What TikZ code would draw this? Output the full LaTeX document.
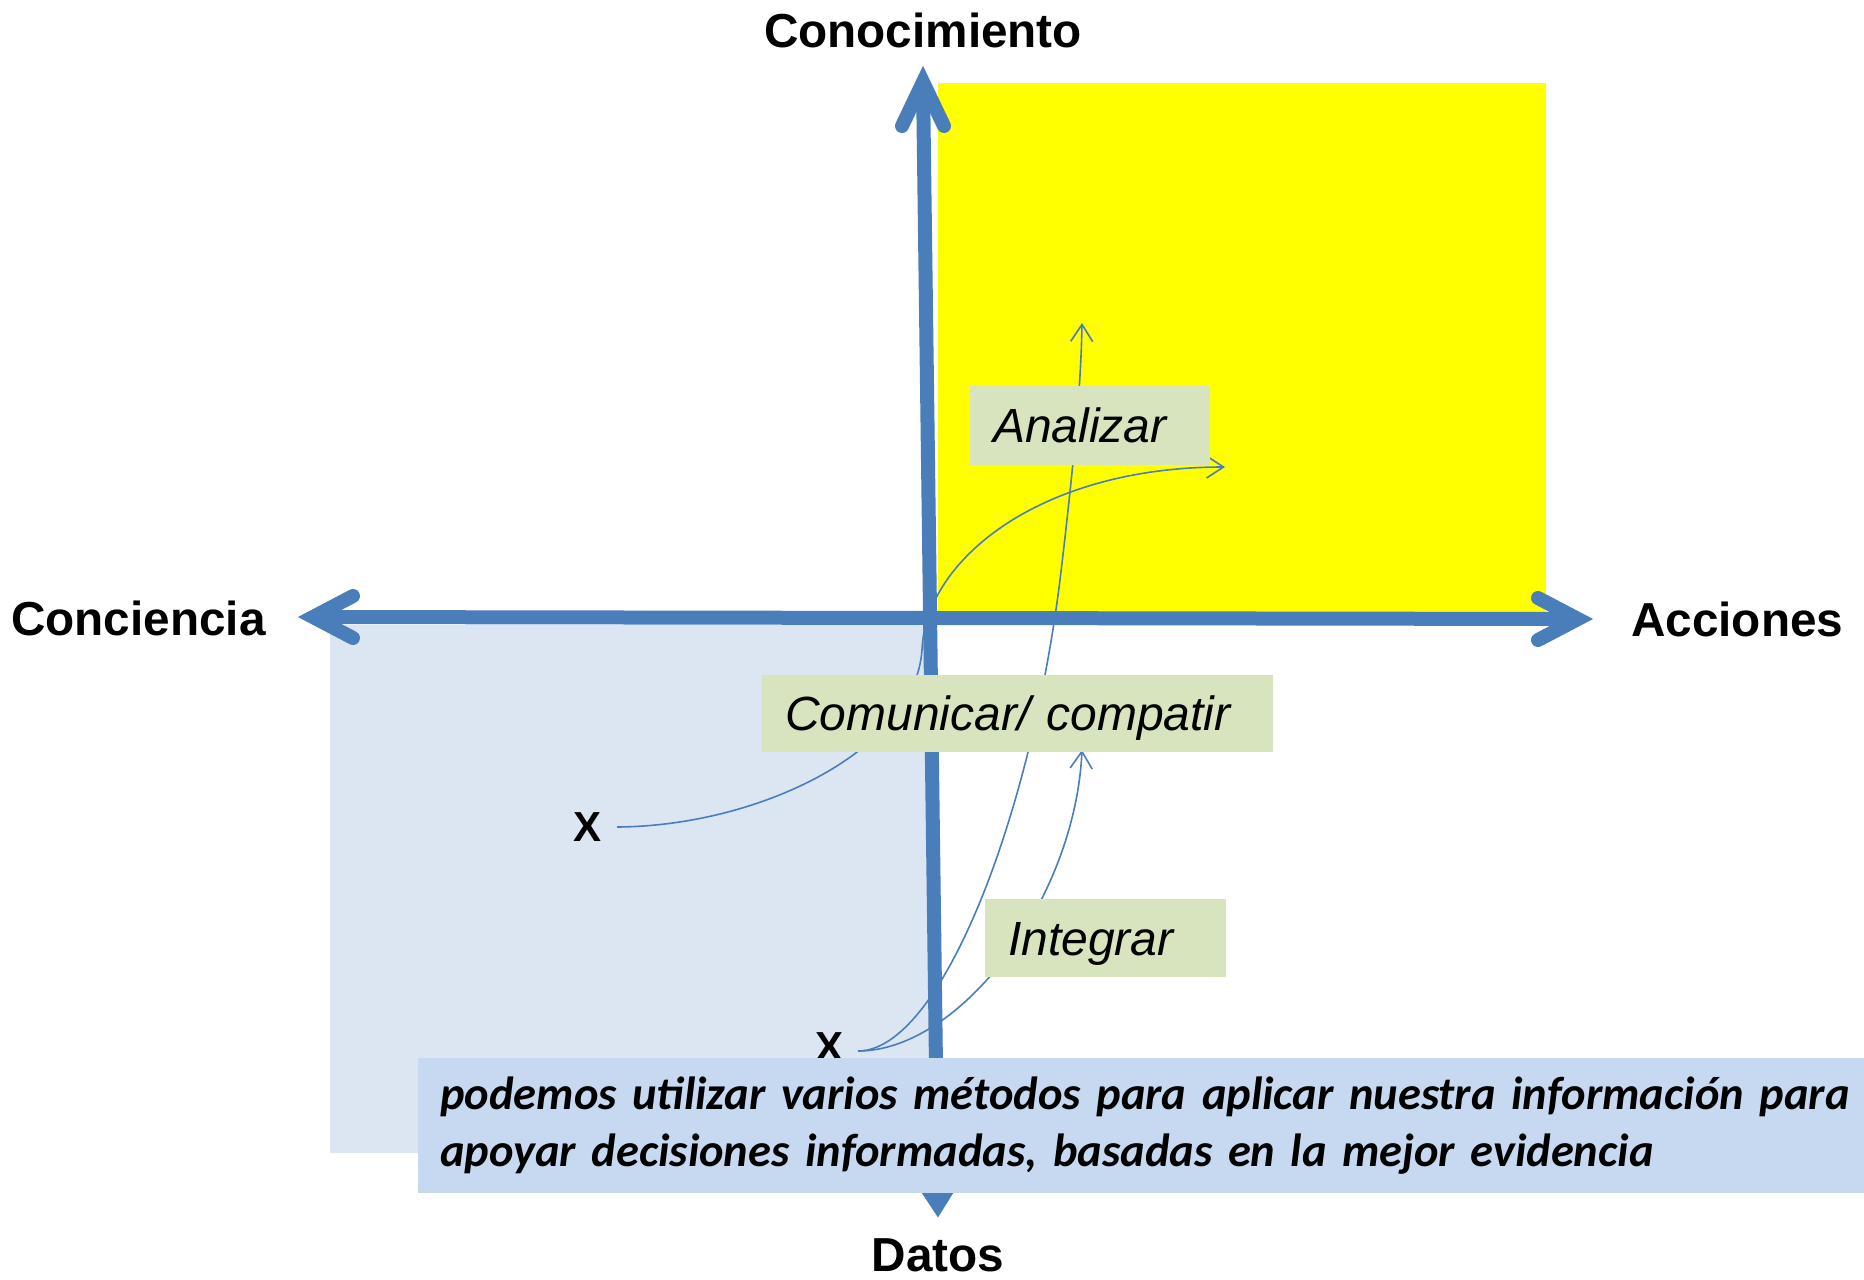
\documentclass[tikz,border=0pt]{standalone}
\usepackage{fontspec}
\setmainfont{Liberation Sans}
\newfontfamily\calib{Carlito}
\usetikzlibrary{arrows.meta}
\definecolor{axisblue}{HTML}{4A7EBB}
\definecolor{qyellow}{HTML}{FFFF00}
\definecolor{qlblue}{HTML}{DCE6F2}
\definecolor{boxgreen}{HTML}{D7E4BD}
\definecolor{boxblue}{HTML}{C6D9F1}
\begin{document}
\begin{tikzpicture}[x=1pt,y=-1pt,
  axisline/.style={draw=axisblue, line width=14pt},
  chevron/.style={draw=axisblue, line width=14pt, line cap=round, line join=miter},
  thinline/.style={draw=axisblue, line width=1.6pt},
  thinarrow/.style={thinline, -{Straight Barb[length=17pt,width=22pt,line width=1.6pt]}},
  axislabel/.style={font=\bfseries\fontsize{47.7}{56}\selectfont, inner sep=0pt},
  greenbox/.style={fill=boxgreen, anchor=north west, inner xsep=23pt, inner ysep=0pt, align=left, text height=34.4pt, text depth=0pt, font=\itshape\fontsize{48}{56}\selectfont},
  xtext/.style={font=\bfseries\fontsize{42}{50}\selectfont, inner ysep=0pt, inner xsep=15pt},
  msgbox/.style={fill=boxblue, anchor=north west, inner xsep=22pt, inner ysep=0pt, align=left, font=\calib\bfseries\itshape\fontsize{46.5}{57}\selectfont}
]
\useasboundingbox (0,0) rectangle (1864,1280);
\fill[white] (0,0) rectangle (1864,1280);

% quadrants
\fill[qyellow] (938,83) rectangle (1546,614);
\fill[qlblue] (330,625) rectangle (933,1153);

% X marks
\node[xtext] (x1) at (588,827) {X};
\node[xtext] (x2) at (829,1047) {X};
\coordinate (s2) at (858,1051);
\coordinate (t1) at (1225,467);
\coordinate (t2) at (1082,323);
\coordinate (t3) at (1082,750);

% thin curves
\draw[thinarrow] (x1.east) .. controls (760,826) and (915,750) .. (922,650)
   .. controls (925,560) and (1040,467) .. (t1);
\draw[thinarrow] (s2) .. controls (940,1051) and (1030,820) .. (1060,580)
   .. controls (1072,480) and (1081,390) .. (t2);
\draw[thinarrow] (s2) .. controls (960,1051) and (1075,900) .. (t3);

% axes
\coordinate (vtop) at (923,82);
\coordinate (vbot) at (938,1218);
\coordinate (hl) at (313,617);
\coordinate (hr) at (1578,619);
\draw[axisline] (hl) -- (hr);
\draw[axisline, -{Triangle[length=42pt,width=50pt]}] (vtop) -- (vbot);
\draw[chevron] (902,126) -- (vtop) -- (944,126);
\draw[chevron] (353,596) -- (hl) -- (353,638);
\draw[chevron] (1538,598) -- (hr) -- (1538,640);

% green boxes
\node[greenbox, text width=194pt, minimum height=79pt] (ana) at (970,386) {Analizar};
\node[greenbox, text width=465pt, minimum height=77pt] (com) at (762,675) {Comunicar/ compatir};
\node[greenbox, text width=195pt, minimum height=78pt] (int) at (985,899) {Integrar};

% message box
\node[msgbox, text width=1430pt, minimum height=135pt] (msg) at (418,1058)
  {podemos utilizar varios métodos para aplicar nuestra información para\\apoyar decisiones informadas, basadas en la mejor evidencia};

% axis labels
\node[axislabel] (kn) at (923,30) {Conocimiento};
\node[axislabel, anchor=west] (cc) at (11,618) {Conciencia};
\node[axislabel, anchor=west] (ac) at (1631,619) {Acciones};
\node[axislabel] (da) at (938,1255) {Datos};
\end{tikzpicture}
\end{document}
